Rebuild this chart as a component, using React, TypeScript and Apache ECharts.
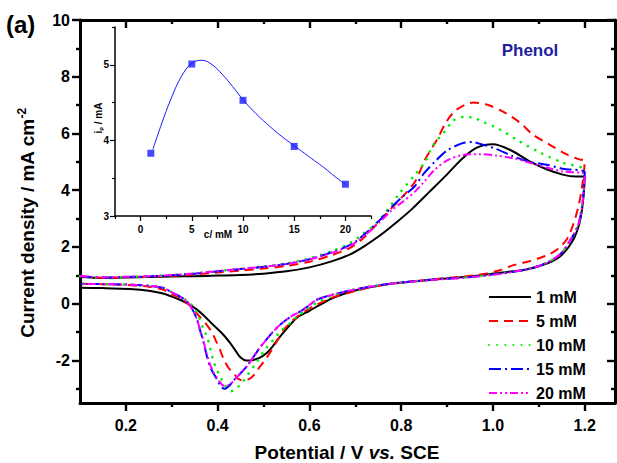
import React, { useEffect, useRef } from "react";
import * as echarts from "echarts";

const FONT = "Arial, 'Liberation Sans', Helvetica, sans-serif";

// ---- axis ticks ----
const xMajorTicks = [0.2, 0.4, 0.6, 0.8, 1.0, 1.2];
const xMinorTicks = [0.3, 0.5, 0.7, 0.9, 1.1];
const yMajorTicks = [-2, 0, 2, 4, 6, 8, 10];
const yMinorTicks = [-3, -1, 1, 3, 5, 7, 9];
const insetXMajor = [0, 5, 10, 15, 20];
const insetXMinor = [-2.5, 2.5, 7.5, 12.5, 17.5, 22.5];
const insetYMajor = [3, 4, 5];
const insetYMinor = [3.5, 4.5, 5.5];

// ---- series names ----
const seriesNames = ["1 mM", "5 mM", "10 mM", "15 mM", "20 mM"];

// ---- CV data: [potential V, current density mA cm-2], forward scan then reverse ----
const cv1mM: [number, number][] = [
  [0.1, 0.94], [0.15, 0.91], [0.2, 0.92], [0.25, 0.94], [0.3, 0.96], [0.35, 0.97], [0.4, 0.99],
  [0.45, 1.01], [0.5, 1.06], [0.55, 1.14], [0.6, 1.28], [0.65, 1.5], [0.69, 1.75], [0.72, 2.03],
  [0.755, 2.42], [0.79, 2.87], [0.825, 3.36], [0.862, 3.95], [0.9, 4.56], [0.934, 5.13],
  [0.965, 5.5], [1.0, 5.62], [1.04, 5.4], [1.08, 5.02], [1.117, 4.74], [1.152, 4.55], [1.18, 4.48],
  [1.2, 4.48],
  [1.198, 3.9], [1.194, 3.3], [1.188, 2.8], [1.178, 2.35], [1.165, 2.0], [1.15, 1.72], [1.13, 1.5],
  [1.1, 1.32], [1.07, 1.2], [1.015, 1.09], [0.943, 0.95], [0.869, 0.85], [0.797, 0.74], [0.76, 0.66],
  [0.725, 0.56], [0.69, 0.42], [0.651, 0.2], [0.623, -0.04], [0.6, -0.25], [0.573, -0.49],
  [0.555, -0.8], [0.536, -1.16], [0.52, -1.5], [0.507, -1.74], [0.49, -1.92], [0.475, -1.99],
  [0.462, -2.0], [0.45, -1.9], [0.44, -1.68], [0.427, -1.38], [0.41, -1.05], [0.39, -0.74],
  [0.372, -0.45], [0.355, -0.21], [0.335, 0.0], [0.318, 0.14], [0.3, 0.25], [0.281, 0.36],
  [0.25, 0.46], [0.209, 0.52], [0.15, 0.55], [0.1, 0.56],
];

const cv5mM: [number, number][] = [
  [0.1, 0.96], [0.15, 0.91], [0.2, 0.93], [0.25, 0.95], [0.3, 0.98], [0.35, 1.03], [0.4, 1.1],
  [0.45, 1.17], [0.5, 1.24], [0.55, 1.33], [0.6, 1.48], [0.65, 1.72], [0.69, 1.98], [0.72, 2.35],
  [0.769, 3.2], [0.797, 3.67], [0.83, 4.3], [0.852, 5.08], [0.878, 5.78], [0.9, 6.45], [0.921, 6.84],
  [0.957, 7.09], [0.986, 7.02], [1.022, 6.77], [1.059, 6.38], [1.087, 5.96], [1.124, 5.6],
  [1.161, 5.26], [1.19, 5.08], [1.2, 5.05],
  [1.198, 4.6], [1.193, 4.0], [1.186, 3.4], [1.175, 2.8], [1.162, 2.3], [1.145, 1.98], [1.124, 1.75],
  [1.1, 1.6], [1.075, 1.48], [1.043, 1.35], [1.015, 1.18], [0.98, 1.05], [0.943, 0.97], [0.869, 0.86],
  [0.797, 0.74], [0.76, 0.66], [0.725, 0.55], [0.69, 0.4], [0.651, 0.22], [0.608, -0.1],
  [0.573, -0.46], [0.545, -0.9], [0.53, -1.3], [0.518, -1.62], [0.505, -1.95], [0.492, -2.22],
  [0.48, -2.5], [0.468, -2.66], [0.455, -2.7], [0.445, -2.65], [0.438, -2.52], [0.43, -2.38],
  [0.422, -2.22], [0.413, -1.95], [0.405, -1.62], [0.396, -1.3], [0.388, -1.02], [0.375, -0.72],
  [0.361, -0.46], [0.345, -0.15], [0.33, 0.06], [0.318, 0.2], [0.3, 0.33], [0.281, 0.5],
  [0.25, 0.6], [0.2, 0.66], [0.15, 0.69], [0.1, 0.7],
];

const cv10mM: [number, number][] = [
  [0.1, 0.97], [0.15, 0.92], [0.2, 0.94], [0.25, 0.97], [0.3, 1.01], [0.35, 1.07], [0.4, 1.15],
  [0.45, 1.23], [0.5, 1.31], [0.55, 1.42], [0.6, 1.6], [0.65, 1.86], [0.69, 2.15], [0.72, 2.5],
  [0.747, 2.86], [0.765, 3.2], [0.797, 3.9], [0.83, 4.55], [0.852, 5.0], [0.87, 5.6], [0.895, 6.07],
  [0.913, 6.45], [0.935, 6.58], [0.956, 6.56], [0.98, 6.4], [1.015, 6.14], [1.059, 5.71],
  [1.102, 5.33], [1.152, 4.97], [1.2, 4.7],
  [1.198, 4.0], [1.194, 3.4], [1.188, 2.9], [1.18, 2.55], [1.167, 2.2], [1.15, 1.8], [1.13, 1.55],
  [1.1, 1.33], [1.07, 1.2], [1.015, 1.06], [0.943, 0.93], [0.869, 0.85], [0.797, 0.74], [0.76, 0.67],
  [0.725, 0.58], [0.69, 0.47], [0.651, 0.3], [0.625, 0.1], [0.608, -0.04], [0.59, -0.25],
  [0.573, -0.46], [0.555, -0.72], [0.536, -0.99], [0.52, -1.3], [0.503, -1.62], [0.481, -2.15],
  [0.468, -2.45], [0.455, -2.75], [0.443, -2.95], [0.431, -3.08], [0.422, -3.0], [0.416, -2.86],
  [0.408, -2.65], [0.401, -2.43], [0.39, -1.98], [0.379, -1.27], [0.368, -0.85], [0.355, -0.32],
  [0.34, 0.02], [0.318, 0.25], [0.3, 0.4], [0.281, 0.56], [0.25, 0.63], [0.209, 0.67],
  [0.15, 0.69], [0.1, 0.7],
];

const cv15mM: [number, number][] = [
  [0.1, 0.97], [0.15, 0.92], [0.2, 0.94], [0.25, 0.96], [0.3, 1.0], [0.35, 1.06], [0.4, 1.14],
  [0.45, 1.22], [0.5, 1.3], [0.55, 1.4], [0.6, 1.57], [0.65, 1.82], [0.69, 2.08], [0.72, 2.45],
  [0.754, 2.96], [0.78, 3.42], [0.804, 3.78], [0.83, 4.15], [0.85, 4.6], [0.873, 5.0], [0.9, 5.4],
  [0.934, 5.66], [0.955, 5.7], [0.975, 5.62], [1.008, 5.45], [1.043, 5.2], [1.08, 5.0],
  [1.117, 4.9], [1.152, 4.76], [1.2, 4.62],
  [1.198, 4.0], [1.194, 3.4], [1.188, 2.9], [1.18, 2.55], [1.167, 2.2], [1.15, 1.8], [1.13, 1.55],
  [1.1, 1.33], [1.07, 1.2], [1.015, 1.06], [0.943, 0.93], [0.869, 0.85], [0.797, 0.74], [0.76, 0.67],
  [0.725, 0.58], [0.69, 0.47], [0.651, 0.32], [0.616, 0.14], [0.6, -0.05], [0.579, -0.28],
  [0.56, -0.45], [0.536, -0.74], [0.52, -1.0], [0.507, -1.25], [0.492, -1.55], [0.477, -1.9],
  [0.464, -2.2], [0.45, -2.45], [0.435, -2.7], [0.425, -2.9], [0.415, -3.0], [0.408, -2.93],
  [0.402, -2.78], [0.397, -2.62], [0.39, -2.43], [0.383, -2.2], [0.375, -1.75], [0.368, -1.27],
  [0.361, -0.9], [0.355, -0.55], [0.345, -0.2], [0.335, 0.05], [0.318, 0.25], [0.3, 0.4],
  [0.281, 0.56], [0.25, 0.63], [0.209, 0.67], [0.15, 0.69], [0.1, 0.7],
];

const cv20mM: [number, number][] = [
  [0.1, 0.98], [0.15, 0.93], [0.2, 0.95], [0.25, 0.97], [0.3, 1.01], [0.35, 1.07], [0.4, 1.15],
  [0.45, 1.23], [0.5, 1.3], [0.55, 1.4], [0.6, 1.56], [0.65, 1.8], [0.69, 2.05], [0.72, 2.4],
  [0.754, 2.89], [0.78, 3.3], [0.804, 3.6], [0.83, 3.95], [0.85, 4.3], [0.873, 4.72], [0.9, 5.05],
  [0.934, 5.24], [0.97, 5.27], [1.008, 5.22], [1.043, 5.13], [1.08, 4.97], [1.117, 4.8],
  [1.152, 4.66], [1.2, 4.55],
  [1.198, 4.0], [1.194, 3.4], [1.188, 2.9], [1.18, 2.55], [1.167, 2.2], [1.15, 1.8], [1.13, 1.55],
  [1.1, 1.33], [1.07, 1.2], [1.015, 1.05], [0.943, 0.92], [0.869, 0.84], [0.797, 0.74], [0.76, 0.67],
  [0.725, 0.58], [0.69, 0.47], [0.651, 0.32], [0.616, 0.14], [0.6, -0.05], [0.579, -0.28],
  [0.56, -0.45], [0.536, -0.74], [0.52, -1.0], [0.507, -1.25], [0.492, -1.55], [0.477, -1.9],
  [0.464, -2.2], [0.45, -2.45], [0.437, -2.68], [0.427, -2.84], [0.417, -2.9], [0.41, -2.86],
  [0.403, -2.72], [0.397, -2.58], [0.39, -2.38], [0.383, -2.12], [0.375, -1.7], [0.368, -1.25],
  [0.361, -0.88], [0.355, -0.55], [0.345, -0.2], [0.335, 0.05], [0.318, 0.25], [0.3, 0.4],
  [0.281, 0.56], [0.25, 0.63], [0.209, 0.67], [0.15, 0.69], [0.1, 0.7],
];

// ---- inset data: peak current vs concentration ----
const insetConc = [1, 5, 10, 15, 20];
const insetPeak = [3.83, 5.01, 4.53, 3.92, 3.42];
const insetFitConc = [1.2, 2, 3, 4, 5, 6, 7, 8, 9, 10, 11, 12, 13, 14, 15, 16, 17, 18, 19, 20];
const insetFitPeak = [3.88, 4.2, 4.56, 4.85, 5.02, 5.06, 5.0, 4.87, 4.71, 4.54, 4.39, 4.26, 4.14, 4.03, 3.93, 3.83, 3.73, 3.63, 3.52, 3.42];

const cvData = [cv1mM, cv5mM, cv10mM, cv15mM, cv20mM];
const cvColors = ["#000000", "#ff0000", "#00ee00", "#0000ff", "#ff00ff"];
const cvDash: any[] = ["solid", [9, 6], [0.1, 8], [12, 4, 2, 4], [8, 3, 2, 3, 2, 3]];

export default function App() {
  const ref = useRef<HTMLDivElement>(null);

  useEffect(() => {
    if (!ref.current) return;
    const chart = echarts.init(ref.current, undefined, { renderer: "svg" });

    const lbl = { fontFamily: FONT, fontWeight: "bold" as const, color: "#000" };

    const mkX = (grid: number, pos: string, min: number, max: number, ticks: number[], len: number, inside: boolean, showLine: boolean, lineW: number, label: any) => ({
      type: "value",
      gridIndex: grid,
      position: pos,
      min,
      max,
      axisLine: { show: showLine, onZero: false, lineStyle: { color: "#000", width: lineW } },
      axisTick: { show: true, customValues: ticks, length: len, inside, lineStyle: { color: "#000", width: lineW * 0.8 } },
      axisLabel: label ? { ...label, customValues: ticks } : { show: false },
      splitLine: { show: false },
      minorTick: { show: false },
    });

    const mainXLabel = { show: true, ...lbl, fontSize: 16, margin: 14, formatter: (v: number) => v.toFixed(1) };
    const mainYLabel = { show: true, ...lbl, fontSize: 16, margin: 10, formatter: (v: number) => String(v) };
    const insetXLabel = { show: true, ...lbl, fontSize: 10, margin: 8, formatter: (v: number) => String(v) };
    const insetYLabel = { show: true, ...lbl, fontSize: 10, margin: 6, formatter: (v: number) => String(v) };

    const xMin = 0.1, xMax = 1.266, yMin = -3.5, yMax = 10;

    const series: any[] = cvData.map((d, i) => ({
      name: seriesNames[i],
      type: "line",
      xAxisIndex: 0,
      yAxisIndex: 0,
      data: d,
      showSymbol: false,
      symbol: "none",
      smooth: 0.3,
      lineStyle: { color: cvColors[i], width: i === 2 ? 2.6 : 2, type: cvDash[i], cap: i === 2 ? "round" : "butt" },
      itemStyle: { color: cvColors[i] },
      z: 2 + i,
    }));

    series.push({
      type: "line",
      xAxisIndex: 4,
      yAxisIndex: 4,
      data: insetFitConc.map((c, i) => [c, insetFitPeak[i]]),
      smooth: 0.4,
      symbol: "none",
      lineStyle: { color: "#1a1aff", width: 1 },
      z: 5,
    });
    series.push({
      type: "scatter",
      xAxisIndex: 4,
      yAxisIndex: 4,
      data: insetConc.map((c, i) => [c, insetPeak[i]]),
      symbol: "rect",
      symbolSize: 7,
      itemStyle: { color: "#1a1aff" },
      z: 6,
    });

    chart.setOption({
      animation: false,
      backgroundColor: "#fff",
      grid: [
        { left: 80, top: 20, width: 535, height: 383 },
        { left: 115, top: 27, width: 256, height: 189 },
      ],
      xAxis: [
        mkX(0, "bottom", xMin, xMax, xMajorTicks, 8, false, true, 3, mainXLabel),
        mkX(0, "bottom", xMin, xMax, xMinorTicks, 4, false, false, 3, null),
        mkX(0, "top", xMin, xMax, xMajorTicks, 8, true, true, 3, null),
        mkX(0, "top", xMin, xMax, xMinorTicks, 4, true, false, 3, null),
        mkX(1, "bottom", -2.5, 22.5, insetXMajor, 5, false, true, 1.5, insetXLabel),
        mkX(1, "bottom", -2.5, 22.5, insetXMinor, 3, false, false, 1.5, null),
      ],
      yAxis: [
        mkX(0, "left", yMin, yMax, yMajorTicks, 8, false, true, 3, mainYLabel),
        mkX(0, "left", yMin, yMax, yMinorTicks, 4, false, false, 3, null),
        mkX(0, "right", yMin, yMax, yMajorTicks, 8, true, true, 3, null),
        mkX(0, "right", yMin, yMax, yMinorTicks, 4, true, false, 3, null),
        mkX(1, "left", 3, 5.5, insetYMajor, 5, false, true, 1.5, insetYLabel),
        mkX(1, "left", 3, 5.5, insetYMinor, 3, false, false, 1.5, null),
      ],
      legend: {
        data: seriesNames,
        orient: "vertical",
        left: 488,
        top: 289,
        itemWidth: 42,
        itemHeight: 14,
        itemGap: 8,
        padding: 0,
        itemStyle: { opacity: 0 },
        textStyle: { ...lbl, fontSize: 16, lineHeight: 14 },
      },
      series,
      graphic: [
        {
          type: "text",
          x: 6,
          y: 12,
          style: { text: "(a)", fontFamily: FONT, fontWeight: "bold", fontSize: 24, fill: "#000" },
        },
        {
          type: "text",
          x: 530,
          y: 50,
          style: { text: "Phenol", fontFamily: FONT, fontWeight: "bold", fontSize: 17, fill: "#1e1ea0", align: "center", verticalAlign: "middle" },
        },
        {
          type: "text",
          x: 27,
          y: 223,
          rotation: Math.PI / 2,
          style: {
            text: "{a|Current density / mA cm}{s|-2}",
            align: "center",
            verticalAlign: "middle",
            fill: "#000",
            rich: {
              a: { fontFamily: FONT, fontWeight: "bold", fontSize: 19, lineHeight: 22 },
              s: { fontFamily: FONT, fontWeight: "bold", fontSize: 12, verticalAlign: "top", lineHeight: 22, padding: [0, 0, 9, 0] },
            },
          },
        },
        {
          type: "text",
          x: 347,
          y: 452,
          style: {
            text: "{a|Potential / V }{i|vs.}{a| SCE}",
            align: "center",
            verticalAlign: "middle",
            fill: "#000",
            rich: {
              a: { fontFamily: FONT, fontWeight: "bold", fontSize: 19 },
              i: { fontFamily: FONT, fontWeight: "bold", fontStyle: "italic", fontSize: 19 },
            },
          },
        },
        {
          type: "text",
          x: 218,
          y: 234,
          style: { text: "c/ mM", fontFamily: FONT, fontWeight: "bold", fontSize: 10, fill: "#000", align: "center", verticalAlign: "middle" },
        },
        {
          type: "text",
          x: 98,
          y: 118,
          rotation: Math.PI / 2,
          style: {
            text: "{a|i}{b|p}{a| / mA}",
            align: "center",
            verticalAlign: "middle",
            fill: "#000",
            rich: {
              a: { fontFamily: FONT, fontWeight: "bold", fontSize: 10, lineHeight: 12 },
              b: { fontFamily: FONT, fontWeight: "bold", fontSize: 6, lineHeight: 12, verticalAlign: "bottom", padding: [4, 0, 0, 0] },
            },
          },
        },
      ],
    });

    return () => chart.dispose();
  }, []);

  return <div ref={ref} style={{ width: 617, height: 463, position: "absolute", left: 0, top: 0 }} />;
}
